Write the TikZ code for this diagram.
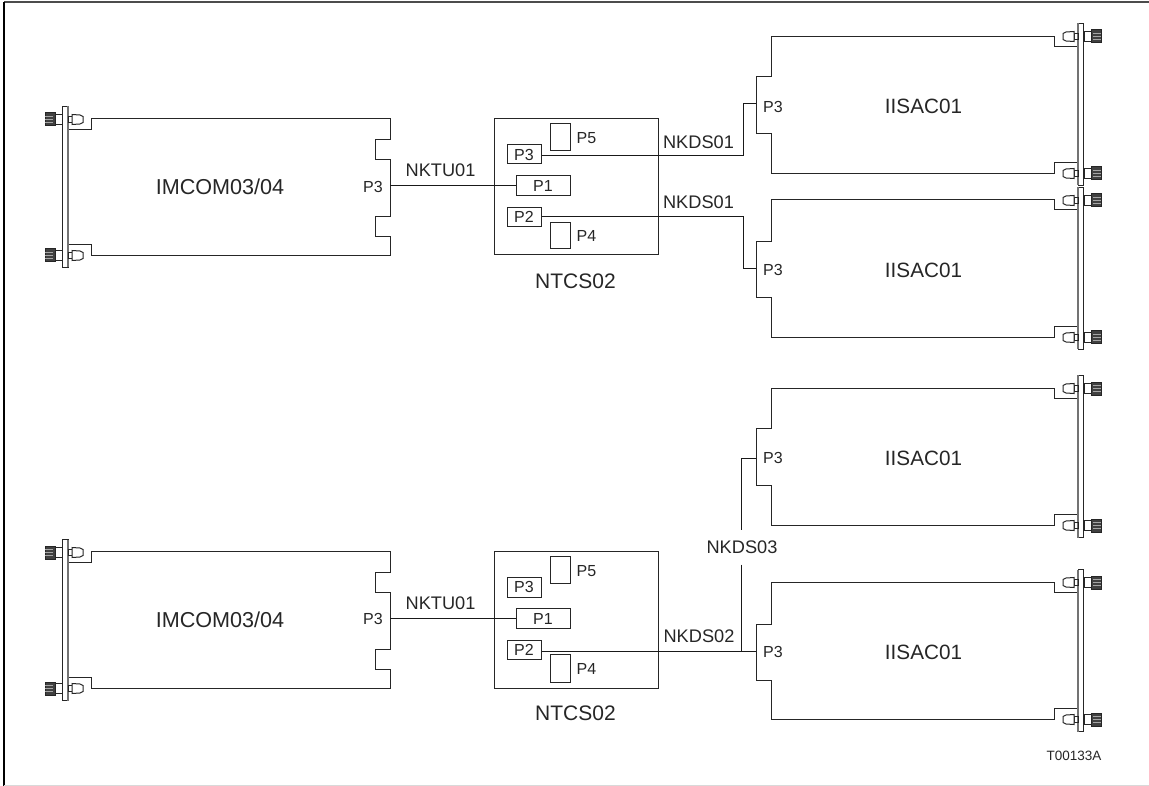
\documentclass[tikz,border=0pt]{standalone}
\usepackage{fontspec}
\setmainfont{Liberation Sans}
\newcommand\latch[3]{%
  \begin{scope}[shift={(#1,#2)},xscale=#3]
    \draw[ln] (0,-3) rectangle (4,3);
    \draw[ln,fill=white] (4,-5) -- (12,-4.5) -- (15,-3) -- (15,3) -- (12,4.5) -- (4,5) -- cycle;
    \draw[ln] (-6,-5) rectangle (-14,5);
    \fill[black!75] (-13,-6.5) rectangle (-23,6.5);
    \draw[ln] (-13,-6.5) rectangle (-23,6.5);
    \foreach \k in {-3,0,3}{\draw[black!35,line width=.6] (-15,\k) -- (-23,\k);}
  \end{scope}}
\newcommand\leftplate[2]{%
  \draw[ln] (62,#1) rectangle (68,#2);
  \draw[black!55,line width=1.4] (68,#1) -- (68,#2);
  \latch{68}{\the\numexpr#1+13\relax}{1}
  \latch{68}{\the\numexpr#2-12\relax}{1}}
\newcommand\rightplate[2]{%
  \draw[ln] (1078,#1) rectangle (1083,#2);
  \draw[black!55,line width=1.4] (1078,#1) -- (1078,#2);
  \latch{1078}{\the\numexpr#1+13\relax}{-1}
  \latch{1078}{\the\numexpr#2-12\relax}{-1}}
\tikzset{
  ln/.style={line width=1pt,draw=black!85,line join=miter},
  wire/.style={line width=1pt,draw=black!90},
  lbl/.style={inner sep=0pt,font=\fontsize{16}{16}\selectfont,text=black!85},
  big/.style={inner sep=0pt,font=\fontsize{20.7}{20.7}\selectfont,text=black!85},
  wide/.style={inner sep=0pt,font=\fontsize{21.6}{21.6}\selectfont,text=black!85},
  cable/.style={inner sep=0pt,font=\fontsize{18.2}{18.2}\selectfont,text=black!85},
  tall/.style={inner sep=0pt,font=\fontsize{21}{21}\selectfont,text=black!85},
  port/.style={ln,fill=white,inner sep=0pt,font=\fontsize{16}{16}\selectfont,text=black!85},
  tag/.style={inner sep=0pt,font=\fontsize{13.5}{13.5}\selectfont,text=black!85}
}
\begin{document}
\begin{tikzpicture}[x=1pt,y=-1pt]
\useasboundingbox (0,0) rectangle (1149,786);
% frame
\draw[black!70,line width=2] (4,2.5) -- (1149,2.5);
\draw[black,line width=2.4] (4,2) -- (4,786);
\draw[black!15,line width=1] (4,785.5) -- (1149,785.5);
\begin{scope}[shift={(0,0.5)}]
% ---------- IMCOM cards
\draw[ln] (68,129) -- (91,129) -- (91,118) -- (390,118) -- (390,139) -- (375,139) -- (375,159) -- (390,159)
  -- (390,216) -- (375,216) -- (375,236) -- (390,236) -- (390,255) -- (91,255) -- (91,244) -- (68,244);
\leftplate{106}{267}
\draw[ln] (68,562) -- (91,562) -- (91,551) -- (390,551) -- (390,572) -- (375,572) -- (375,592) -- (390,592)
  -- (390,649) -- (375,649) -- (375,669) -- (390,669) -- (390,688) -- (91,688) -- (91,677) -- (68,677);
\leftplate{539}{700}
\node[wide] (imcomA) at (220,186) {IMCOM03/04};
\node[wide] (imcomB) at (220,619) {IMCOM03/04};
\node[lbl] (imA) at (373,186) {P3};
\node[lbl] (imB) at (373,618.5) {P3};
\coordinate (imAp) at (390,184.7);
\coordinate (imBp) at (390,617.7);

% ---------- IISAC cards
\draw[ln] (1078,46) -- (1054,46) -- (1054,36) -- (771,36) -- (771,76.5) -- (756,76.5) -- (756,133) -- (771,133)
  -- (771,173) -- (1054,173) -- (1054,162) -- (1078,162);
\rightplate{23}{185}
\draw[ln] (1078,209) -- (1054,209) -- (1054,199) -- (771,199) -- (771,241) -- (756,241) -- (756,297) -- (771,297)
  -- (771,337) -- (1054,337) -- (1054,326) -- (1078,326);
\rightplate{187}{349}
\draw[ln] (1078,398) -- (1054,398) -- (1054,388) -- (771,388) -- (771,428) -- (756,428) -- (756,485) -- (771,485)
  -- (771,525) -- (1054,525) -- (1054,514) -- (1078,514);
\rightplate{375}{537}
\draw[ln] (1078,592) -- (1054,592) -- (1054,582) -- (771,582) -- (771,624) -- (756,624) -- (756,680) -- (771,680)
  -- (771,719) -- (1054,719) -- (1054,708) -- (1078,708);
\rightplate{569}{731}
\node[big] (iiA) at (923.5,106) {IISAC01};
\node[big] (iiB) at (923.5,270) {IISAC01};
\node[big] (iiC) at (923.5,458) {IISAC01};
\node[big] (iiD) at (923.5,652) {IISAC01};
\node[lbl] (pA) at (773,106) {P3};
\node[lbl] (pB) at (773,269) {P3};
\node[lbl] (pC) at (773,457) {P3};
\node[lbl] (pD) at (773,651.5) {P3};
\coordinate (iiAp) at (756,103);
\coordinate (iiBp) at (756,268);
\coordinate (iiCp) at (756,457.5);
\coordinate (iiDp) at (756,650.5);

% ---------- NTCS02 upper
\node[draw,ln,minimum width=164pt,minimum height=136pt,inner sep=0pt] (ntA) at (576,186) {};
\node[port,draw,minimum width=20pt,minimum height=26.5pt] (a5) at (560,136.7) {};
\node[port,draw,minimum width=34pt,minimum height=19pt] (a3) at (524,154) {P3};
\node[port,draw,minimum width=54pt,minimum height=20pt] (a1) at (543,185) {P1};
\node[port,draw,minimum width=34pt,minimum height=19.5pt] (a2) at (524,216.3) {P2};
\node[port,draw,minimum width=20pt,minimum height=26.5pt] (a4) at (560,235.2) {};
\node[lbl] (a5t) at (586.5,137.5) {P5};
\node[lbl] (a4t) at (586.5,235.5) {P4};
\node[tall] (ntAt) at (575.5,281) {NTCS02};
% ---------- NTCS02 lower
\node[draw,ln,minimum width=164pt,minimum height=137pt,inner sep=0pt] (ntB) at (576,619.5) {};
\node[port,draw,minimum width=20pt,minimum height=27.5pt] (b5) at (560,569.7) {};
\node[port,draw,minimum width=34pt,minimum height=19.5pt] (b3) at (524,586.8) {P3};
\node[port,draw,minimum width=54pt,minimum height=19.5pt] (b1) at (543,618.2) {P1};
\node[port,draw,minimum width=34pt,minimum height=19pt] (b2) at (524,649.5) {P2};
\node[port,draw,minimum width=20pt,minimum height=27.5pt] (b4) at (560,668.2) {};
\node[lbl] (b5t) at (586.5,570.5) {P5};
\node[lbl] (b4t) at (586.5,668) {P4};
\node[tall] (ntBt) at (575.5,712.5) {NTCS02};

% ---------- wires
\draw[wire] (imAp) -- (imAp -| a1.west);
\draw[wire] (imBp) -- (imBp -| b1.west);
\draw[wire] (a3.east |- 0,155) -- (743,155) -- (743,103) -- (iiAp);
\draw[wire] (a2.east |- 0,216.5) -- (743,216.5) -- (743,268) -- (iiBp);
\draw[wire] (iiDp) -- (iiDp -| b2.east);
\node[cable] (nds3) at (742,547) {NKDS03};
\draw[wire] (iiCp) -- (741.5,457.5) -- (741.5,529);
\draw[wire] (741.5,564) -- (741.5,650.5);
\node[cable] (nt1) at (440.5,170) {NKTU01};
\node[cable] (nt2) at (440.5,603) {NKTU01};
\node[cable] (ds1) at (698.5,141.5) {NKDS01};
\node[cable] (ds2) at (698.5,201.5) {NKDS01};
\node[cable] (ds3) at (699,636) {NKDS02};
\node[tag] (code) at (1074,755.5) {T00133A};
\end{scope}
\end{tikzpicture}
\end{document}
